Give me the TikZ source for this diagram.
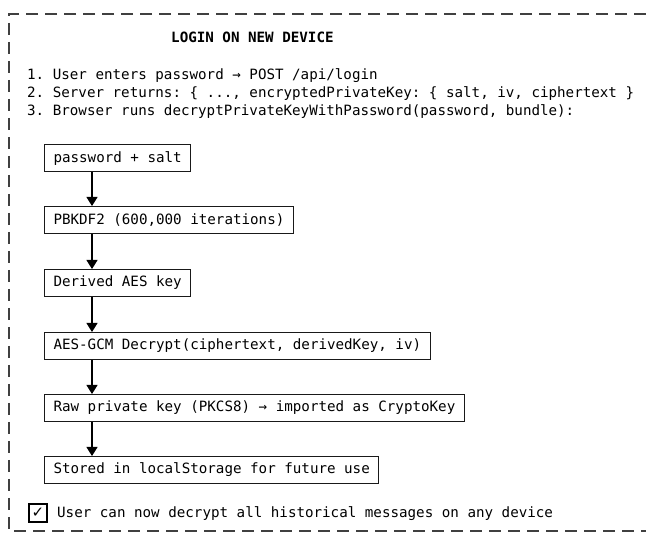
\documentclass[tikz,border=0pt]{standalone}
\usepackage{fontspec}
\setmonofont{DejaVu Sans Mono}
\newfontfamily\symfont{DejaVu Sans}
\usetikzlibrary{arrows.meta}
\begin{document}
\begin{tikzpicture}[x=1pt,y=-1pt]
\tikzset{
    loginFrame/.style={draw=black!75,line width=1.2pt,dash pattern=on 12pt off 7pt},
    loginText/.style={anchor=base west,inner sep=0pt,text=black,font=\ttfamily\fontsize{14.2}{15}\selectfont},
    loginStepBox/.style={draw=black!90,line width=1.1pt,anchor=north west,minimum height=27pt,
        inner xsep=9pt,inner ysep=0pt,text=black,font=\ttfamily\fontsize{14.2}{15}\selectfont},
    loginArrow/.style={draw=black,line width=1.2pt,-{Triangle[length=9pt,width=11pt]}}
}
\useasboundingbox (0,0) rectangle (646,534);
% frame, open on the right
\draw[loginFrame] (646,14) -- (9,14) -- (9,531) -- (646,531);

\node[loginText,font=\ttfamily\bfseries\fontsize{14.2}{15}\selectfont] (title) at (171,43) {LOGIN ON NEW DEVICE};
\node[loginText] (lineA) at (27,80) {1. User enters password → POST /api/login};
\node[loginText] (lineB) at (27,98) {2. Server returns: \{ ..., encryptedPrivateKey: \{ salt, iv, ciphertext \}};
\node[loginText] (lineC) at (27,116) {3. Browser runs decryptPrivateKeyWithPassword(password, bundle):};

% decryption steps
\node[loginStepBox] (pwdSalt) at (44,144) {password + salt};
\node[loginStepBox] (pbkdf) at (44,206) {PBKDF2 (600,000 iterations)};
\node[loginStepBox] (aesKey) at (44,269) {Derived AES key};
\node[loginStepBox] (gcm) at (44,332) {AES-GCM Decrypt(ciphertext, derivedKey, iv)};
\node[loginStepBox] (rawKey) at (44,394) {Raw private key (PKCS8) → imported as CryptoKey};
\node[loginStepBox] (stored) at (44,456) {Stored in localStorage for future use};

\coordinate (arrowX) at (92,0);
\draw[loginArrow] (pwdSalt.south -| arrowX) -- (pbkdf.north -| arrowX);
\draw[loginArrow] (pbkdf.south -| arrowX) -- (aesKey.north -| arrowX);
\draw[loginArrow] (aesKey.south -| arrowX) -- (gcm.north -| arrowX);
\draw[loginArrow] (gcm.south -| arrowX) -- (rawKey.north -| arrowX);
\draw[loginArrow] (rawKey.south -| arrowX) -- (stored.north -| arrowX);

\node[draw=black,line width=1.1pt,minimum size=18pt,inner sep=0pt,font=\symfont\fontsize{15}{15}\selectfont] (check) at (38,513) {✓};
\node[loginText] (result) at (57,518) {User can now decrypt all historical messages on any device};
\end{tikzpicture}
\end{document}
